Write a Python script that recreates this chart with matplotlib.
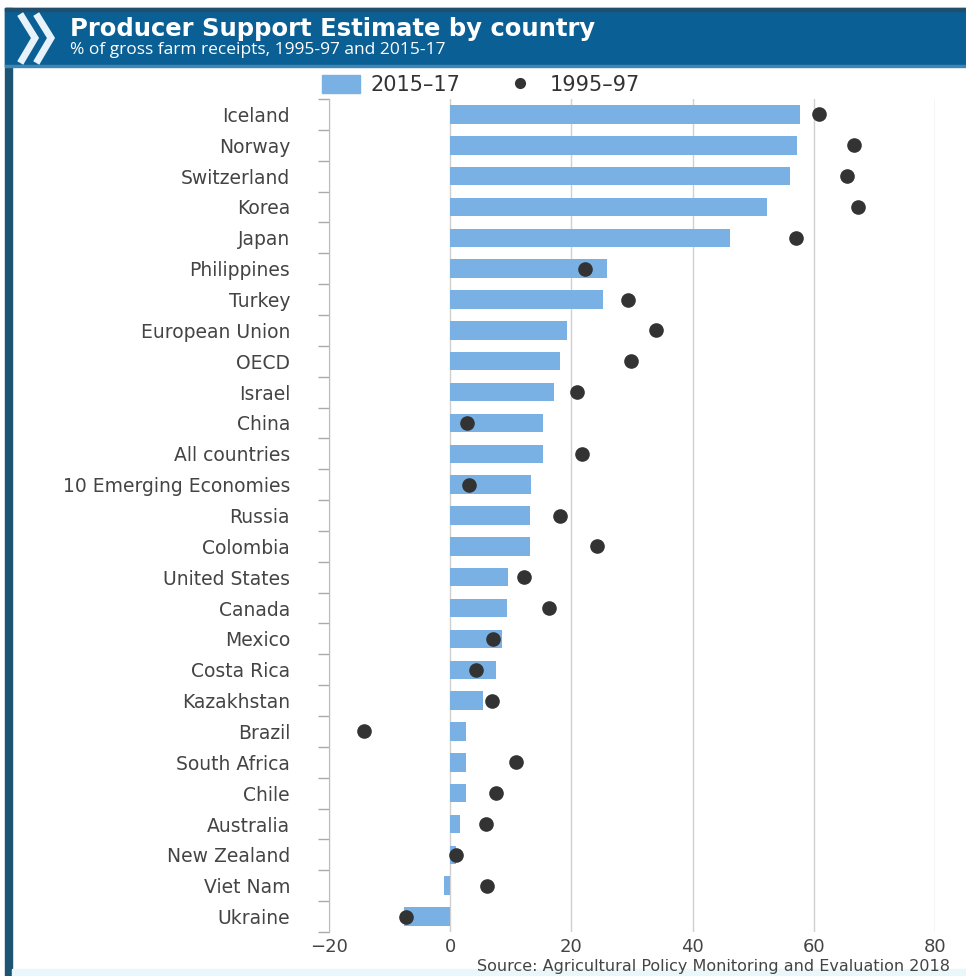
import matplotlib
matplotlib.use("Agg")
import matplotlib.pyplot as plt
from matplotlib.patches import Rectangle, Patch
from matplotlib.lines import Line2D
import numpy as np

countries = ["Iceland", "Norway", "Switzerland", "Korea", "Japan", "Philippines",
             "Turkey", "European Union", "OECD", "Israel", "China", "All countries",
             "10 Emerging Economies", "Russia", "Colombia", "United States", "Canada",
             "Mexico", "Costa Rica", "Kazakhstan", "Brazil", "South Africa", "Chile",
             "Australia", "New Zealand", "Viet Nam", "Ukraine"]
pse_2015_17 = [57.7, 57.3, 56.0, 52.2, 46.1, 25.9, 25.2, 19.2, 18.2, 17.2, 15.3, 15.3,
               13.4, 13.1, 13.1, 9.5, 9.3, 8.6, 7.6, 5.4, 2.6, 2.6, 2.6, 1.6, 0.9, -1.0, -7.6]
pse_1995_97 = [60.8, 66.6, 65.4, 67.3, 57.0, 22.3, 29.3, 34.0, 29.8, 20.9, 2.8, 21.7,
               3.1, 18.1, 24.3, 12.2, 16.3, 7.0, 4.2, 6.9, -14.3, 10.9, 7.6, 5.9, 0.9, 6.0, -7.3]
x_ticks = [-20, 0, 20, 40, 60, 80]

W, H = 966, 976
fig = plt.figure(figsize=(W / 100, H / 100), dpi=100)
fig.patch.set_facecolor("white")

def fx(px):
    return px / W

def fy(py):
    return 1 - py / H

# frame / header
fig.patches.append(Rectangle((fx(5), fy(976)), fx(7), (976 - 8) / H, transform=fig.transFigure,
                             color="#1d5474", zorder=0))
fig.patches.append(Rectangle((fx(12), fy(976)), 1, 7 / H, transform=fig.transFigure,
                             color="#e9f7fb", zorder=0))
fig.patches.append(Rectangle((fx(5), fy(66)), 1, 58 / H, transform=fig.transFigure,
                             color="#0a5f95", zorder=1))
fig.patches.append(Rectangle((fx(5), fy(11)), 1, 3 / H, transform=fig.transFigure,
                             color="#1f4f6c", zorder=2))
fig.patches.append(Rectangle((fx(5), fy(67)), 1, 2 / H, transform=fig.transFigure,
                             color="#3f86b4", zorder=2))

# chevrons
for x0 in (22, 38):
    fig.lines.append(Line2D([fx(x0), fx(x0 + 13), fx(x0)], [fy(17), fy(38), fy(60)],
                            transform=fig.transFigure, color="#e8f2fa", lw=5,
                            solid_joinstyle="miter", zorder=3))

fig.text(fx(70), fy(29), "Producer Support Estimate by country", fontsize=17.5,
         fontweight="bold", color="white", va="center", ha="left", family="DejaVu Sans")
fig.text(fx(70), fy(50), "% of gross farm receipts, 1995-97 and 2015-17", fontsize=12.5,
         color="white", va="center", ha="left", family="Open Sans")

ax = fig.add_axes([fx(329), fy(932), fx(935) - fx(329), (932 - 99) / H])
y = np.arange(len(countries))
ax.barh(y, pse_2015_17, height=0.6, color="#7ab1e5", zorder=2, label="2015–17")
ax.plot(pse_1995_97, y, "o", color="#333333", markersize=9.5, zorder=3, label="1995–97",
        linestyle="none")

ax.set_xlim(-20, 80)
ax.set_ylim(len(countries) - 0.5, -0.5)
ax.set_xticks(x_ticks)
ax.set_xticklabels([str(v).replace("-", "−") for v in x_ticks])
ax.set_yticks(y)
ax.set_yticklabels(countries)
ax.set_yticks(np.arange(-0.5, len(countries), 1), minor=True)
ax.tick_params(axis="y", which="major", length=0, pad=28, labelsize=13.5, labelcolor="#444444")
ax.tick_params(axis="y", which="minor", length=8, color="#aaaaaa", width=1)
ax.tick_params(axis="x", length=0, pad=4, labelsize=13, labelcolor="#444444")
for s in ("top", "right", "bottom"):
    ax.spines[s].set_visible(False)
ax.spines["left"].set_color("#bbbbbb")
ax.grid(axis="x", color="#d0d0d0", lw=1, zorder=0)
ax.set_axisbelow(True)
for lab in ax.get_yticklabels() + ax.get_xticklabels():
    lab.set_family("DejaVu Sans")

handles = [Patch(color="#7ab1e5", label="2015–17"),
           Line2D([], [], marker="o", color="#333333", linestyle="none", markersize=7,
                  label="1995–97")]
ax.legend(handles=handles, ncol=2, frameon=False, loc="center",
          bbox_to_anchor=(fx(481), fy(85)), bbox_transform=fig.transFigure,
          prop={"family": "DejaVu Sans", "size": 15}, handlelength=1.8, handleheight=1.0,
          columnspacing=2.0, handletextpad=0.5, labelcolor="#333333")

fig.text(fx(950), fy(966), "Source: Agricultural Policy Monitoring and Evaluation 2018",
         fontsize=11.5, color="#444444", ha="right", va="center")

fig.savefig("out.png", dpi=100)
